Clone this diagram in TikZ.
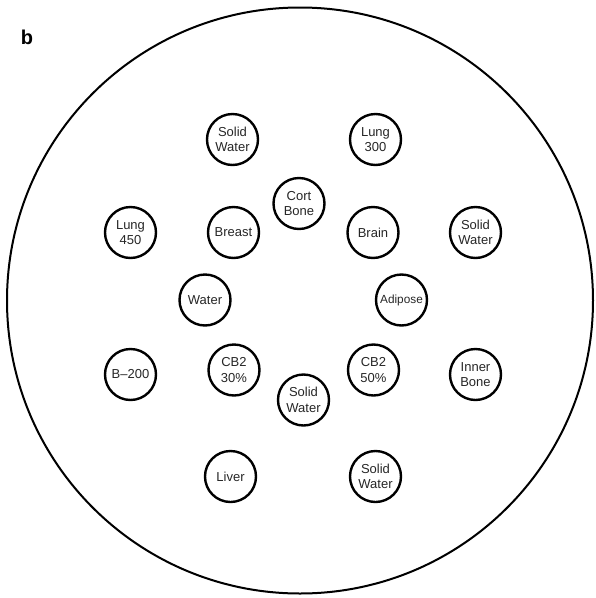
\documentclass[tikz,border=0pt]{standalone}
\usepackage{fontspec}
\setmainfont{Liberation Sans}
\begin{document}
\begin{tikzpicture}[x=1pt,y=-1pt,
  insert/.style={circle,draw=black,line width=2.4pt,minimum size=51pt,inner sep=0pt,
    align=center,font=\fontsize{13}{15.5}\selectfont,text=black!85},
  smalltext/.style={font=\fontsize{11.8}{14}\selectfont}]
  \useasboundingbox (0,0) rectangle (596,598);
  % phantom outline
  \node[circle,draw=black,line width=2pt,minimum size=586pt,inner sep=0pt] (phantom) at (300,300.5) {};
  % panel letter
  \node[font=\fontsize{20}{24}\selectfont\bfseries,anchor=base] (panel) at (27,44) {b};
  % tissue-equivalent inserts
  \node[insert] (sw1) at (232.5,139.5) {Solid\\Water};
  \node[insert] (lung300) at (375.5,139.5) {Lung\\300};
  \node[insert] (cort) at (299,203.5) {Cort\\Bone};
  \node[insert] (lung450) at (130.5,232.5) {Lung\\450};
  \node[insert] (breast) at (233.5,232.5) {Breast};
  \node[insert] (brain) at (373,232.5) {Brain};
  \node[insert] (sw2) at (475.5,232.5) {Solid\\Water};
  \node[insert] (water) at (205,300) {Water};
  \node[insert,smalltext] (adipose) at (401.5,300) {Adipose};
  \node[insert] (b200) at (130.5,374.5) {B--200};
  \node[insert] (cb30) at (234,370) {CB2\\30\%};
  \node[insert] (sw3) at (303.5,400) {Solid\\Water};
  \node[insert] (cb50) at (373.5,370) {CB2\\50\%};
  \node[insert] (inner) at (475.5,374.5) {Inner\\Bone};
  \node[insert] (liver) at (230.5,476.5) {Liver};
  \node[insert] (sw4) at (375.5,476.5) {Solid\\Water};
\end{tikzpicture}
\end{document}
